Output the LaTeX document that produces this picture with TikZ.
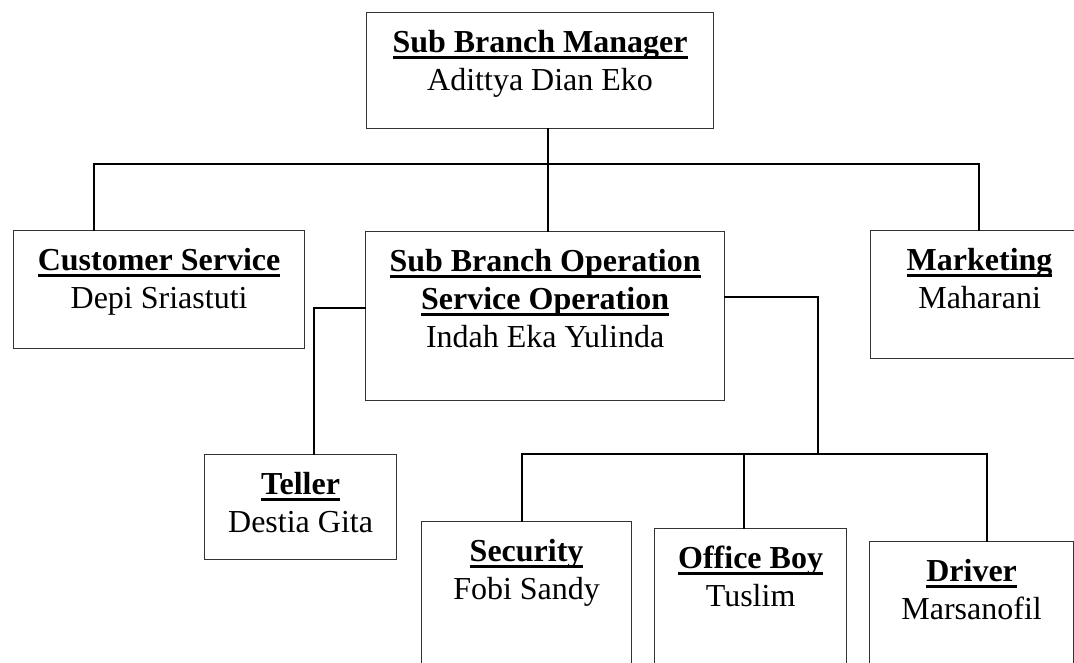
\documentclass[tikz,border=0pt]{standalone}
\usepackage{fontspec}
\setmainfont{Liberation Serif}
\usetikzlibrary{positioning, calc}
\tikzset{
  post/.style = {draw=black!80, line width=1.2pt, anchor=north west, inner sep=0pt,
                 font=\fontsize{32}{38}\selectfont},
  link/.style = {draw, line width=2pt, line cap=rect},
}
% title in bold with a heavy underline
\newcommand{\postul}[1]{\leavevmode\setbox0=\hbox{\bfseries #1}\rlap{\rule[-6pt]{\wd0}{3pt}}\box0}
% box body: width, height, lines
\newcommand{\postbody}[3]{\parbox[t][#2pt][t]{#1pt}{\centering\noindent\rule{0pt}{40pt}#3}}

\begin{document}
\begin{tikzpicture}[x=1pt, y=-1pt]
  \useasboundingbox (0,0) rectangle (1074,662);
  \clip (0,0) rectangle (1074,662);

  \node[post] at (366, 12) (mgr)    {\postbody{347}{116}{\postul{Sub Branch Manager}\\Adittya Dian Eko}};
  \node[post] at ( 13,230) (cs)     {\postbody{291}{118}{\postul{Customer Service}\\Depi Sriastuti}};
  \node[post] at (365,231) (sbo)    {\postbody{359}{169}{\postul{Sub Branch Operation}\\\postul{Service Operation}\\Indah Eka Yulinda}};
  \node[post] at (870,230) (mkt)    {\postbody{218}{128}{\postul{Marketing}\\Maharani}};
  \node[post] at (204,454) (teller) {\postbody{192}{105}{\postul{Teller}\\Destia Gita}};
  \node[post] at (421,521) (sec)    {\postbody{210}{170}{\postul{Security}\\Fobi Sandy}};
  \node[post] at (654,528) (ob)     {\postbody{192}{170}{\postul{Office Boy}\\Tuslim}};
  \node[post] at (869,541) (drv)    {\postbody{204}{170}{\postul{Driver}\\Marsanofil}};

  \coordinate (hub) at (548,164);
  \coordinate (csx) at ( 94,164);
  \coordinate (mkx) at (979,164);
  \coordinate (tlx) at (314,308);
  \coordinate (opx) at (818,297);
  \coordinate (bus) at (818,454);
  \coordinate (scx) at (522,454);
  \coordinate (obx) at (744,454);
  \coordinate (drx) at (987,454);

  \draw[link] (mgr.south -| hub) -- (sbo.north -| hub);
  \draw[link] (cs.north -| csx) -- (csx) -- (mkx) -- (mkt.north -| mkx);
  \draw[link] (sbo.west |- tlx) -- (tlx) -- (teller.north -| tlx);
  \draw[link] (sbo.east |- opx) -- (opx) -- (bus);
  \draw[link] (sec.north -| scx) -- (scx) -- (drx) -- (drv.north -| drx);
  \draw[link] (obx) -- (ob.north -| obx);
\end{tikzpicture}
\end{document}
